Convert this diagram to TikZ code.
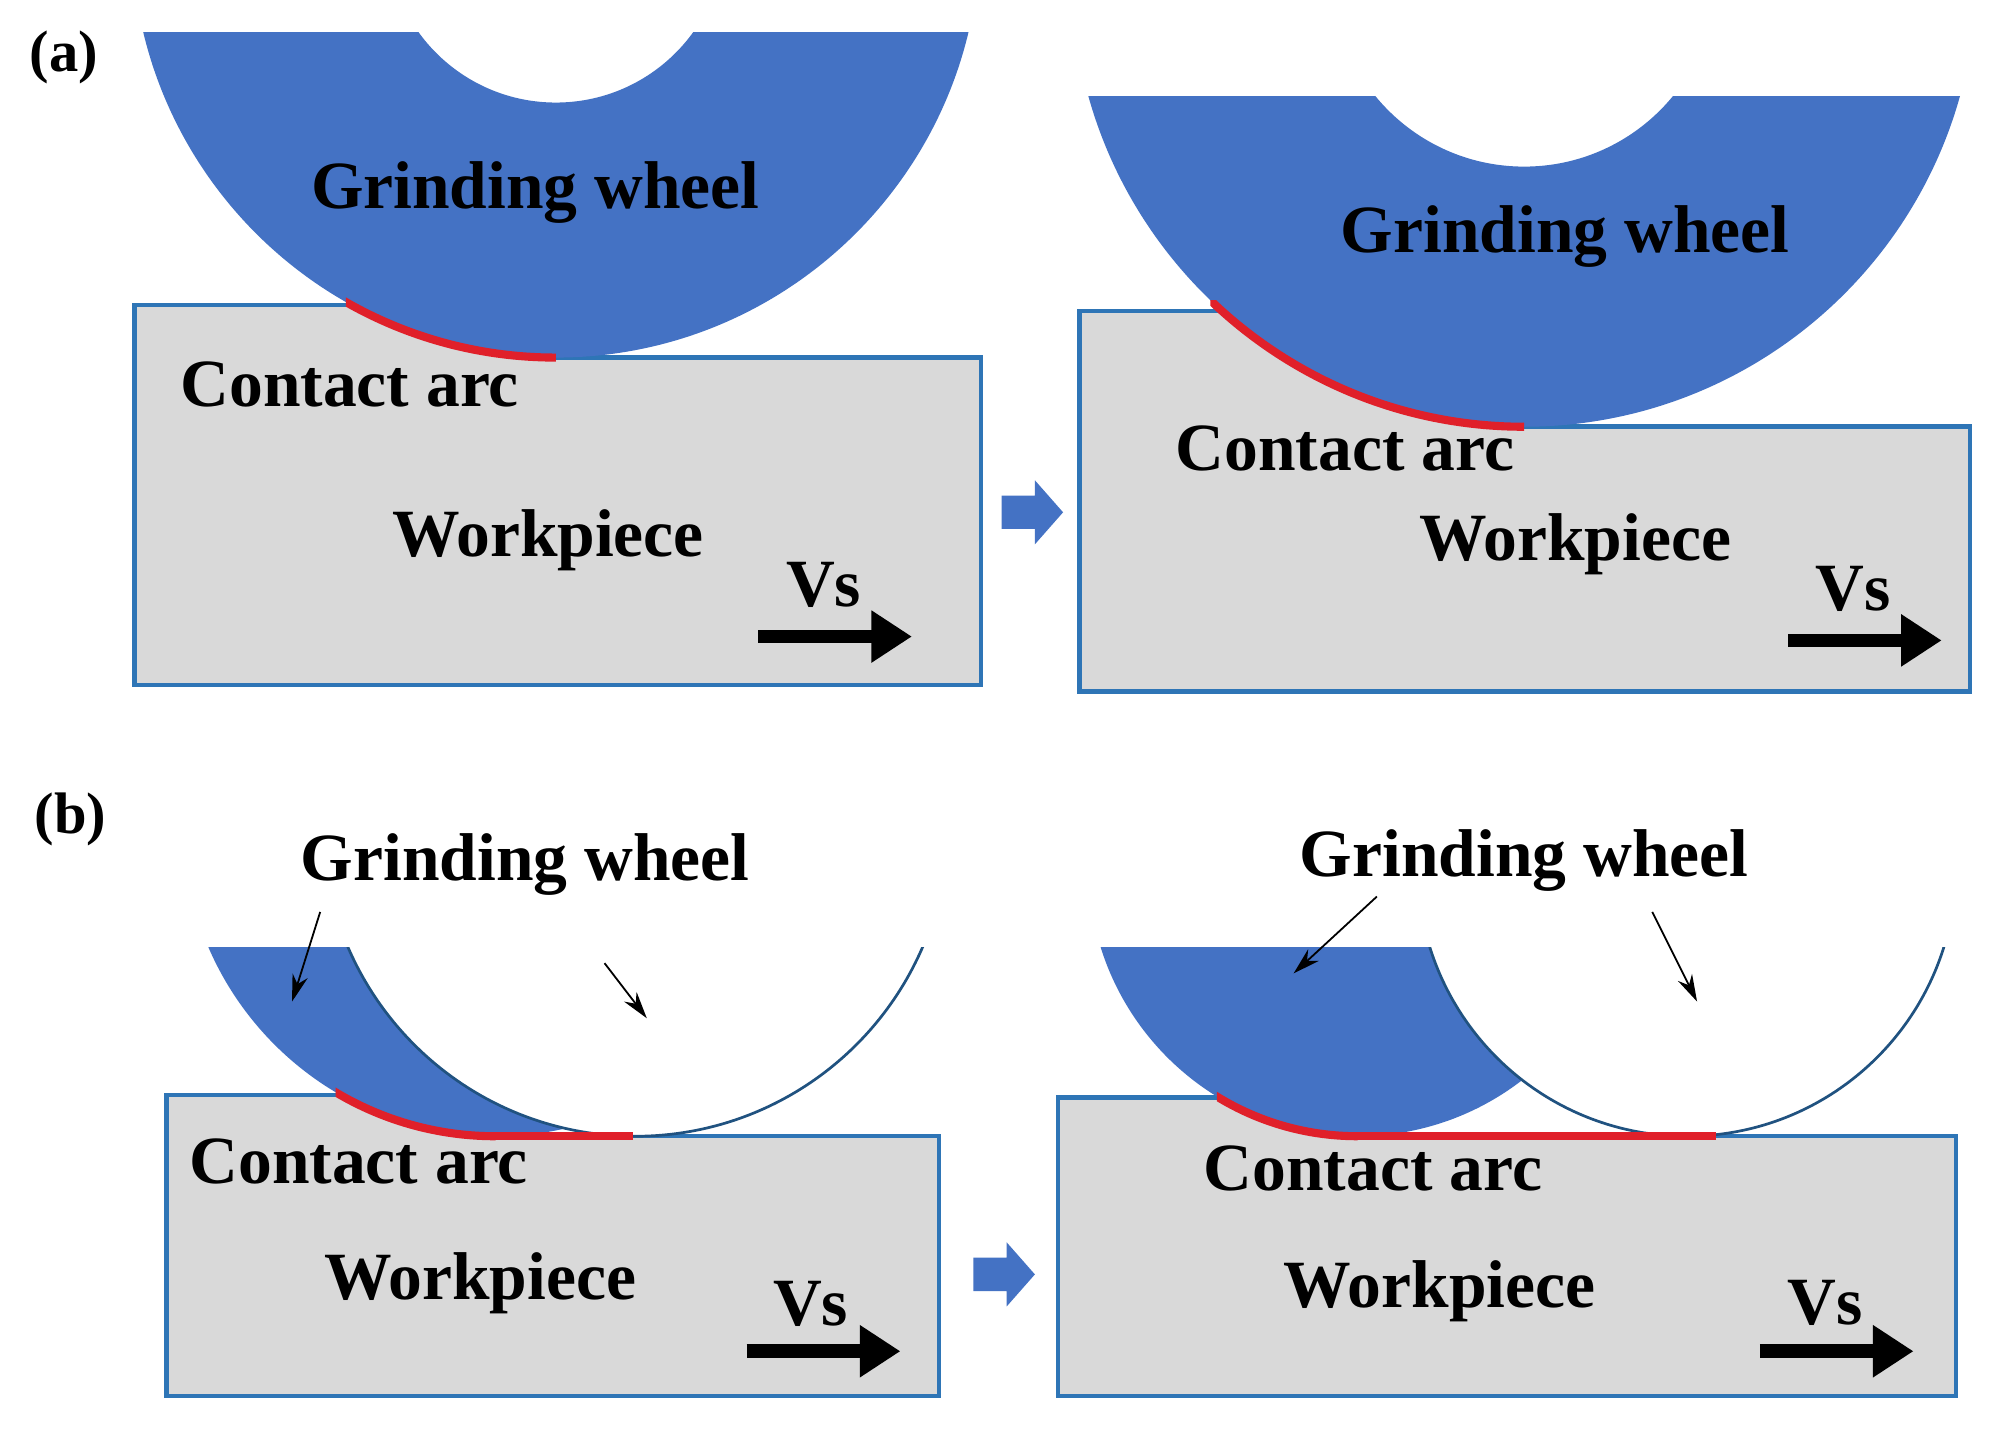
\documentclass[tikz,border=0pt]{standalone}
\usepackage{fontspec}
\setmainfont{Liberation Serif}
\usetikzlibrary{arrows.meta}
\definecolor{wblue}{HTML}{4472C4}
\definecolor{wborder}{HTML}{2E75B6}
\definecolor{wgray}{HTML}{D9D9D9}
\definecolor{cred}{HTML}{E0202A}
\tikzset{
  work/.style={fill=wgray,draw=wborder,line width=1pt},
  lbl/.style={font=\fontsize{15}{18}\selectfont\bfseries,inner sep=0pt},
  panel/.style={font=\fontsize{13}{16}\selectfont\bfseries,inner sep=0pt},
  vsarrow/.style={line width=3pt,-{Triangle[length=9pt,width=11pt]}},
  thinarrow/.style={line width=0.4pt,-{Stealth[length=6pt,width=3.5pt]}},
  carc/.style={draw=cred,line width=1.8pt},
  blockarr/.style={fill=wblue,draw=none}
}
\begin{document}
\begin{tikzpicture}[x=0.01cm,y=-0.01cm]
\useasboundingbox[fill=white] (0,0) rectangle (1567,1125);
% ---------- (a) left ----------
\path[work] (105,535)--(105,238)--(434,238)--(434,279)--(766,279)--(766,535)--cycle;
\begin{scope}
\clip (0,25) rectangle (800,400);
\fill[wblue,even odd rule] (434,-52) circle[radius=3.31cm] (434,-52) circle[radius=1.32cm];
\end{scope}
\begin{scope}
\clip (270,230) rectangle (434,290);
\draw[carc] (434,-52) circle[radius=3.31cm];
\end{scope}
% ---------- (a) right ----------
\path[work] (843,540)--(843,243)--(1190,243)--(1190,333)--(1538,333)--(1538,540)--cycle;
\begin{scope}
\clip (800,75) rectangle (1567,400);
\fill[wblue,even odd rule] (1190,-20) circle[radius=3.53cm] (1190,-20) circle[radius=1.50cm];
\end{scope}
\begin{scope}
\clip (945,235) rectangle (1190,345);
\draw[carc] (1190,-20) circle[radius=3.53cm];
\end{scope}
% block arrow (a)
\path[blockarr] (782,387)--(808,387)--(808,375)--(830,400)--(808,425)--(808,413)--(782,413)--cycle;
% ---------- (b) left ----------
\path[work] (130,1090)--(130,855)--(387,855)--(387,887)--(733,887)--(733,1090)--cycle;
\begin{scope}
\clip (0,740) rectangle (800,889);
\fill[wblue] (387,643) circle[radius=2.44cm];
\fill[white] (496,643) circle[radius=2.44cm];
\draw[wborder!70!black,line width=0.6pt] (496,643) circle[radius=2.44cm];
\end{scope}
\begin{scope}
\clip (262,845) rectangle (387,895);
\draw[carc] (387,643) circle[radius=2.44cm];
\end{scope}
\draw[carc] (386,887)--(494,887);
% ---------- (b) right ----------
\path[work] (826,1090)--(826,857)--(1060,857)--(1060,887)--(1527,887)--(1527,1090)--cycle;
\begin{scope}
\clip (800,740) rectangle (1567,889);
\fill[wblue] (1060,677) circle[radius=2.10cm];
\fill[white] (1317,677) circle[radius=2.10cm];
\draw[wborder!70!black,line width=0.6pt] (1317,677) circle[radius=2.10cm];
\end{scope}
\begin{scope}
\clip (950,845) rectangle (1060,895);
\draw[carc] (1060,677) circle[radius=2.10cm];
\end{scope}
\draw[carc] (1059,887)--(1340,887);
% block arrow (b)
\path[blockarr] (760,982)--(786,982)--(786,970)--(808,995)--(786,1020)--(786,1008)--(760,1008)--cycle;
% ---------- labels ----------
\node[panel] (pa) at (50,45) {(a)};
\node[panel] (pb) at (55,640) {(b)};
\node[lbl] (gw1) at (418,150) {Grinding wheel};
\node[lbl] (gw2) at (1222,185) {Grinding wheel};
\node[lbl] (ca1) at (273,300) {Contact arc};
\node[lbl] (ca2) at (1050,350) {Contact arc};
\node[lbl] (wp1) at (428,422) {Workpiece};
\node[lbl] (wp2) at (1230,425) {Workpiece};
\node[lbl] (vs1) at (643,457) {Vs};
\node[lbl] (vs2) at (1447,460) {Vs};
\coordinate (v1a) at (592,497); \coordinate (v1b) at (712,497);
\coordinate (v2a) at (1396,500); \coordinate (v2b) at (1516,500);
\draw[vsarrow] (v1a)--(v1b);
\draw[vsarrow] (v2a)--(v2b);
\node[lbl] (gw3) at (410,675) {Grinding wheel};
\node[lbl] (gw4) at (1190,672) {Grinding wheel};
\node[lbl] (ca3) at (280,907) {Contact arc};
\node[lbl] (ca4) at (1072,912) {Contact arc};
\node[lbl] (wp3) at (375,1002) {Workpiece};
\node[lbl] (wp4) at (1124,1008) {Workpiece};
\node[lbl] (vs3) at (633,1018) {Vs};
\node[lbl] (vs4) at (1425,1017) {Vs};
\coordinate (v3a) at (583,1055); \coordinate (v3b) at (703,1055);
\coordinate (v4a) at (1374,1055); \coordinate (v4b) at (1494,1055);
\draw[vsarrow] (v3a)--(v3b);
\draw[vsarrow] (v4a)--(v4b);
\coordinate (t1) at (228,782); \coordinate (t2) at (505,795);
\coordinate (t3) at (1010,760); \coordinate (t4) at (1325,782);
\draw[thinarrow] (250,712)--(t1);
\draw[thinarrow] (472,752)--(t2);
\draw[thinarrow] (1075,700)--(t3);
\draw[thinarrow] (1290,712)--(t4);
\end{tikzpicture}
\end{document}
